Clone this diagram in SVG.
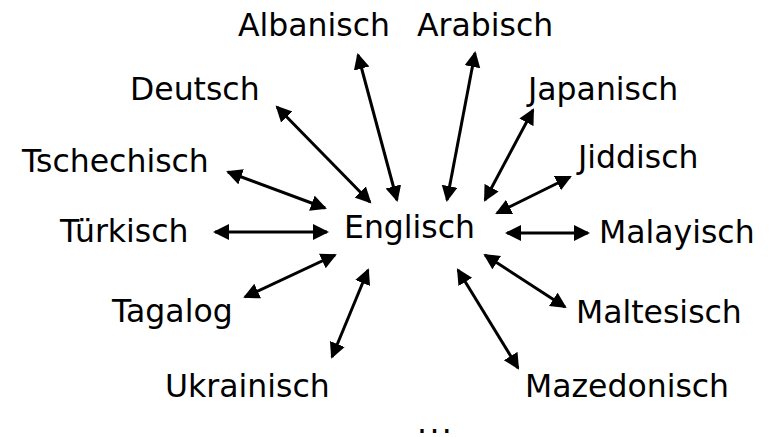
<svg xmlns="http://www.w3.org/2000/svg" width="773" height="437" viewBox="0 0 773 437">
<style>
text{font-family:"DejaVu Sans",Verdana,sans-serif;font-size:31.5px;fill:#000}
.c line{stroke:#000;stroke-width:3;marker-start:url(#ah);marker-end:url(#ah)}
</style>
<defs>
<marker id="ah" markerUnits="userSpaceOnUse" markerWidth="17" markerHeight="17" refX="14" refY="8" orient="auto-start-reverse" viewBox="0 0 17 17">
<path d="M0,0 L16,8 L0,16 z" fill="#000"/>
</marker>
</defs>
<rect width="773" height="437" fill="#fff"/>
<g class="c" id="connectors">
<line x1="397" y1="200" x2="358" y2="55"/>
<line x1="447" y1="200" x2="475" y2="53"/>
<line x1="370" y1="202" x2="277" y2="107"/>
<line x1="485" y1="200" x2="533" y2="110"/>
<line x1="325" y1="208" x2="228" y2="172"/>
<line x1="497" y1="213" x2="570" y2="177"/>
<line x1="327" y1="232" x2="215" y2="232"/>
<line x1="507" y1="233" x2="588" y2="233"/>
<line x1="335" y1="255" x2="245" y2="297"/>
<line x1="368" y1="270" x2="332" y2="357"/>
<line x1="485" y1="255" x2="565" y2="307"/>
<line x1="458" y1="270" x2="518" y2="368"/>
</g>
<g id="englisch"><text x="344" y="238">Englisch</text></g>
<g id="albanisch"><text x="238" y="36">Albanisch</text></g>
<g id="arabisch"><text x="417" y="36">Arabisch</text></g>
<g id="deutsch"><text x="130" y="100">Deutsch</text></g>
<g id="japanisch"><text x="528" y="100">Japanisch</text></g>
<g id="tschechisch"><text x="22" y="172">Tschechisch</text></g>
<g id="jiddisch"><text x="578" y="168">Jiddisch</text></g>
<g id="tuerkisch"><text x="60" y="242">Türkisch</text></g>
<g id="malayisch"><text x="599" y="243">Malayisch</text></g>
<g id="tagalog"><text x="112" y="322">Tagalog</text></g>
<g id="maltesisch"><text x="576" y="323">Maltesisch</text></g>
<g id="ukrainisch"><text x="165" y="397">Ukrainisch</text></g>
<g id="mazedonisch"><text x="525" y="397">Mazedonisch</text></g>
<g id="more"><text x="417" y="433" letter-spacing="2.4">...</text></g>
</svg>
